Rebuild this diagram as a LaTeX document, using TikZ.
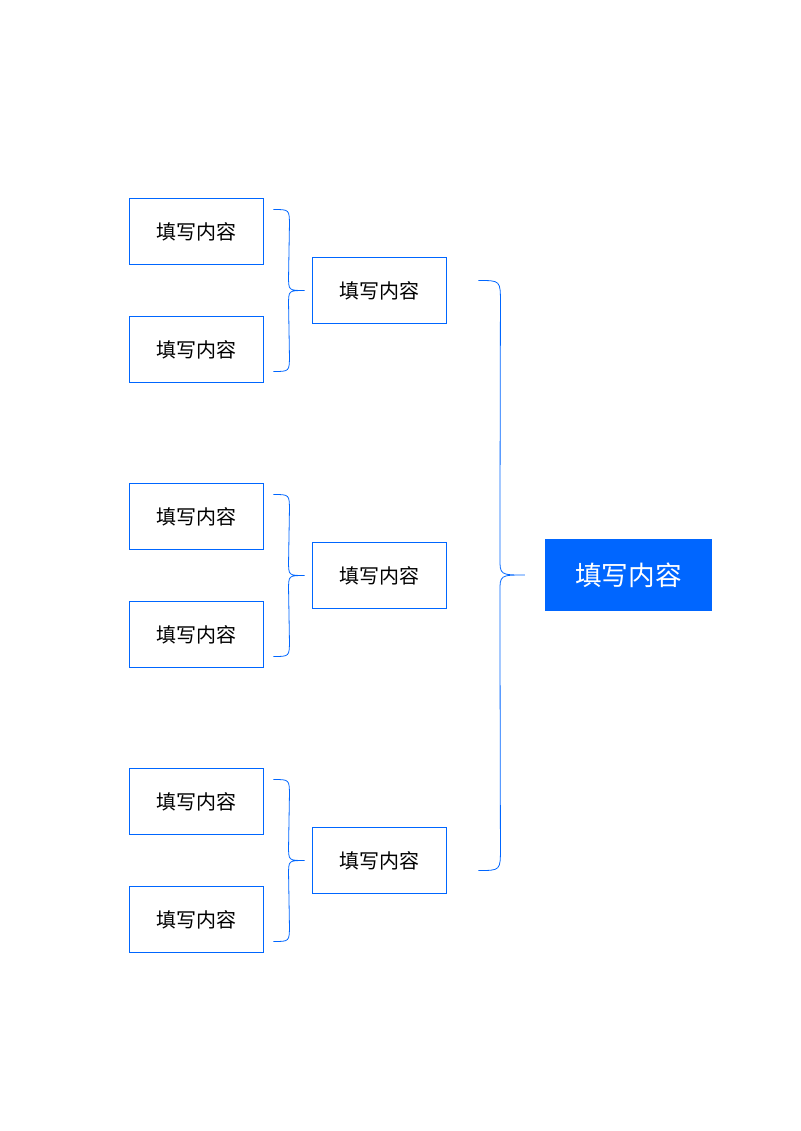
\documentclass[tikz,border=0pt]{standalone}
\usepackage{fontspec}
\newfontfamily\cjk{Noto Sans CJK SC}
\usetikzlibrary{calc}
\definecolor{tianblue}{HTML}{0066FF}
\tikzset{
  kuang/.style = {draw=tianblue, line width=0.9pt, minimum width=101pt,
    minimum height=50pt, inner sep=0pt, font=\cjk\fontsize{15}{18}\selectfont},% box
  zhu/.style = {fill=tianblue, text=white, minimum width=125pt,
    minimum height=54pt, inner sep=0pt, font=\cjk\fontsize{20}{24}\selectfont},% main box
  kuohao/.style = {draw=tianblue, line width=0.6pt}% brace
}
\begin{document}
\begin{tikzpicture}[x=0.75pt,y=-0.75pt]
\useasboundingbox (0,0) rectangle (800,1131);
\node[zhu] (m) at (628.5,575) {填写内容};
\foreach \i/\y in {1/290.5,2/575.5,3/860.5}{
  \node[kuang] (b\i) at (379.5,\y) {填写内容};
  \node[kuang] (b\i a) at (196.5,\y-59) {填写内容};
  \node[kuang] (b\i b) at (196.5,\y+59) {填写内容};
  % small brace
  \coordinate (t\i) at ($(b\i.west)+(-7,0)$);
  \draw[kuohao] ($(b\i a.east)+(9,-22)$) .. controls ++(16,0) .. ++(16,16)
    -- ($(t\i)+(-16,-14)$) .. controls ($(t\i)+(-16,0)$) .. (t\i)
    .. controls ($(t\i)+(-16,0)$) .. ($(t\i)+(-16,14)$)
    -- ($(b\i b.east)+(25,6)$) .. controls ++(0,16) .. ++(-16,16);
}
% large brace
\coordinate (tm) at ($(m.west)+(-20,0)$);
\draw[kuohao] ($(b1.east)+(31,-10)$) .. controls ++(22,0) .. ++(22,22)
  -- ($(tm)+(-25,-18)$) .. controls ($(tm)+(-25,0)$) .. (tm)
  .. controls ($(tm)+(-25,0)$) .. ($(tm)+(-25,18)$)
  -- ($(b3.east)+(53,-12)$) .. controls ++(0,22) .. ++(-22,22);
\end{tikzpicture}
\end{document}
